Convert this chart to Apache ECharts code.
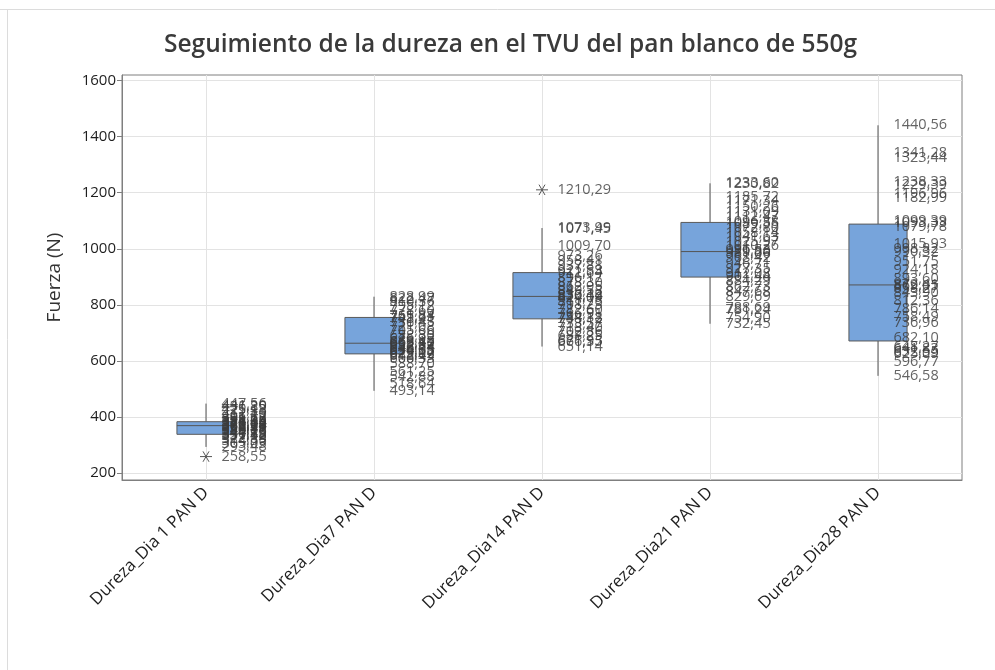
<!DOCTYPE html>
<html>
<head>
<meta charset="utf-8">
<script src="https://cdn.jsdelivr.net/npm/echarts@6/dist/echarts.min.js"></script>
<style>
  html, body { margin: 0; padding: 0; background: #fff; }
  #chart { width: 995px; height: 670px; }
</style>
</head>
<body>
<div id="chart"></div>
<script>
const categories = ['Dureza_Dia 1 PAN D', 'Dureza_Dia7 PAN D', 'Dureza_Dia14 PAN D', 'Dureza_Dia21 PAN D', 'Dureza_Dia28 PAN D']
const yTicks = [200, 400, 600, 800, 1000, 1200, 1400, 1600]

// box statistics: whisker low, Q1, median, Q3, whisker high
const boxLow = [293, 493.14, 651.14, 732.45, 546.58]
const boxQ1 = [338, 625, 750, 899, 671]
const boxMed = [369, 663, 830, 990, 871]
const boxQ3 = [383, 755, 915, 1094, 1088]
const boxHigh = [447.56, 828.99, 1073.99, 1233.6, 1440.56]

// individual measurements (labelled points)
const dia1 = [447.56, 441.2, 436.85, 425.13, 412.4, 401.77, 395.62, 388.19, 384.05, 381.3, 378.44, 375.92, 372.68, 370.11, 368.74, 366.25, 362.9, 358.47, 353.81, 349.26, 344.7, 340.15, 337.58, 331.42, 322.89, 314.36, 305.03, 293.48, 258.55]
const dia7 = [828.99, 822.47, 810.36, 795.12, 778.6, 761.84, 755.23, 748.91, 736.45, 721.08, 705.66, 688.3, 676.92, 668.15, 663.4, 659.87, 652.31, 646.74, 640.08, 634.55, 629.17, 625.02, 618.49, 606.33, 588.7, 561.25, 542.88, 518.64, 493.14]
const dia14 = [1210.29, 1073.99, 1071.45, 1009.7, 973.26, 958.41, 937.88, 921.53, 912.64, 896.17, 878.3, 862.95, 849.58, 836.12, 830.44, 824.09, 811.76, 798.23, 782.6, 766.91, 754.38, 748.12, 733.57, 718.4, 702.86, 688.25, 671.93, 666.35, 651.14]
const dia21 = [1233.6, 1230.82, 1185.72, 1171.34, 1150.26, 1131.09, 1112.47, 1096.38, 1089.55, 1072.8, 1058.14, 1041.63, 1025.97, 1010.26, 996.53, 989.8, 981.06, 968.42, 946.71, 927.35, 912.08, 901.44, 884.29, 862.73, 847.68, 829.69, 788.69, 781.24, 754.9, 732.45]
const dia28 = [1440.56, 1341.28, 1323.44, 1238.33, 1229.39, 1196.96, 1182.99, 1099.39, 1093.33, 1079.78, 1015.93, 998.82, 990.32, 951.75, 924.18, 893.6, 872.41, 869.05, 858.27, 843.9, 812.36, 786.14, 758.49, 736.96, 682.1, 648.27, 641.83, 632.55, 625.09, 596.77, 546.58]

// outliers: [category index, value]
const outliers = [[0, 258.55], [2, 1210.29]]

const FONT = '"Open Sans", "Noto Sans", sans-serif'
const groups = [dia1, dia7, dia14, dia21, dia28]
const points = []
groups.forEach((g, i) => g.forEach(v => points.push([i, v])))
const boxData = categories.map((_, i) => [i, boxLow[i], boxQ1[i], boxMed[i], boxQ3[i], boxHigh[i]])

const chart = echarts.init(document.getElementById('chart'))

chart.setOption({
  animation: false,
  backgroundColor: '#fff',
  title: {
    text: 'Seguimiento de la dureza en el TVU del pan blanco de 550g',
    left: 159,
    top: 28,
    textStyle: { fontFamily: FONT, fontSize: 24.5, fontWeight: 600, color: '#3a3a3a' },
  },
  graphic: [
    { type: 'line', shape: { x1: 0, y1: 9.5, x2: 995, y2: 9.5 }, style: { stroke: '#dcdcdc', lineWidth: 1 } },
    { type: 'line', shape: { x1: 7.5, y1: 9, x2: 7.5, y2: 670 }, style: { stroke: '#dcdcdc', lineWidth: 1 } },
  ],
  grid: {
    left: 122,
    right: 33,
    top: 75,
    bottom: 190,
    show: true,
    borderColor: '#7f7f7f',
    borderWidth: 1,
  },
  xAxis: {
    type: 'category',
    data: categories,
    axisLine: { lineStyle: { color: '#7f7f7f' } },
    axisTick: { alignWithLabel: true, length: 6, lineStyle: { color: '#7f7f7f' } },
    splitLine: { show: true, alignWithLabel: true, lineStyle: { color: '#e3e3e3' } },
    axisLabel: { rotate: 45, margin: 10, fontFamily: FONT, fontSize: 17, color: '#1e1e1e' },
  },
  yAxis: {
    type: 'value',
    min: 175,
    max: 1620,
    name: 'Fuerza (N)',
    nameLocation: 'middle',
    nameGap: 58,
    nameTextStyle: { fontFamily: FONT, fontSize: 19, color: '#333' },
    axisLine: { show: true, lineStyle: { color: '#7f7f7f' } },
    axisTick: { show: true, length: 5, customValues: yTicks, lineStyle: { color: '#7f7f7f' } },
    axisLabel: {
      customValues: yTicks,
      margin: 6,
      fontFamily: FONT,
      fontSize: 15,
      color: '#1e1e1e',
      formatter: v => String(v),
    },
    splitLine: { show: true, lineStyle: { color: '#e3e3e3' } },
  },
  series: [
    {
      type: 'custom',
      data: boxData,
      encode: { x: 0, y: [1, 2, 3, 4, 5] },
      z: 2,
      renderItem(params, api) {
        const i = api.value(0)
        const x = api.coord([i, api.value(3)])[0]
        const y = [1, 2, 3, 4, 5].map(k => api.coord([i, api.value(k)])[1])
        const half = api.size([1, 0])[0] * 0.173
        const line = { stroke: '#555', lineWidth: 1 }
        return {
          type: 'group',
          children: [
            { type: 'line', shape: { x1: x, y1: y[4], x2: x, y2: y[3] }, style: line },
            { type: 'line', shape: { x1: x, y1: y[1], x2: x, y2: y[0] }, style: line },
            {
              type: 'rect',
              shape: { x: x - half, y: y[3], width: half * 2, height: y[1] - y[3] },
              style: { fill: '#77a4db', stroke: '#5a5a5a', lineWidth: 1 },
            },
            { type: 'line', shape: { x1: x - half, y1: y[2], x2: x + half, y2: y[2] }, style: line },
          ],
        }
      },
    },
    {
      type: 'custom',
      data: outliers,
      z: 3,
      renderItem(params, api) {
        const [x, y] = api.coord([api.value(0), api.value(1)])
        const r = 6
        const dx = r * 0.5
        const dy = r * 0.866
        const st = { stroke: '#555', lineWidth: 1 }
        return {
          type: 'group',
          children: [
            { type: 'line', shape: { x1: x - r, y1: y, x2: x + r, y2: y }, style: st },
            { type: 'line', shape: { x1: x - dx, y1: y - dy, x2: x + dx, y2: y + dy }, style: st },
            { type: 'line', shape: { x1: x - dx, y1: y + dy, x2: x + dx, y2: y - dy }, style: st },
          ],
        }
      },
    },
    {
      type: 'scatter',
      data: points,
      symbolSize: 1,
      z: 4,
      itemStyle: { color: 'rgba(0,0,0,0)' },
      label: {
        show: true,
        position: 'right',
        distance: 15,
        fontFamily: FONT,
        fontSize: 14.5,
        color: '#3c3c3c',
        formatter: p => p.value[1].toFixed(2).replace('.', ','),
      },
    },
  ],
})
</script>
</body>
</html>
